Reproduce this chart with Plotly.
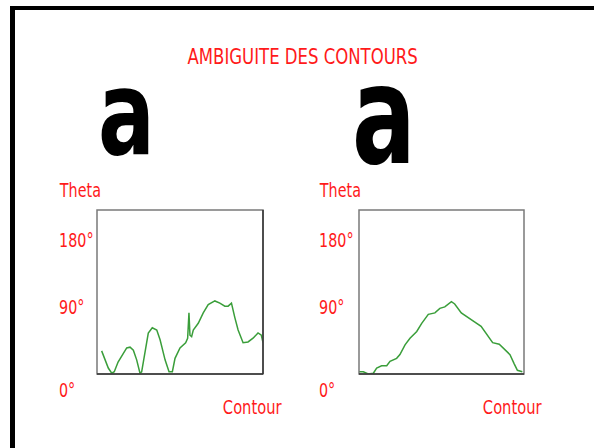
import json
import plotly.graph_objects as go

W, H = 594, 448

# Contour position (0-100 along the outline) and tangent angle theta (degrees)
contour_a = [2.8, 6.8, 8.9, 10.4, 12.7, 17.9, 19.9, 21.9, 23.9, 25.9, 26.9, 28.9,
             30.9, 33.3, 36.0, 38.0, 41.0, 43.4, 45.4, 47.0, 50.0, 53.4, 54.6,
             55.4, 56.0, 57.0, 58.0, 61.0, 64.0, 67.0, 71.0, 74.0, 77.0, 79.0,
             81.0, 83.0, 85.0, 88.0, 91.0, 94.0, 97.0, 99.0, 100.0]
theta_a = [31, 8, 1, 3, 16, 35, 36, 32, 19, 1, 3, 32,
           55, 62, 59, 46, 19, 3, 3, 21, 35, 42, 48,
           82, 52, 50, 59, 68, 82, 93, 98, 95, 91, 91,
           95, 76, 59, 42, 43, 48, 55, 52, 42]

contour_b = [0.0, 2.6, 5.6, 8.7, 10.7, 13.7, 16.8, 18.8, 22.8, 24.8, 27.9, 30.9,
             35.0, 38.0, 42.0, 46.0, 49.0, 52.0, 56.0, 58.0, 62.0, 67.0, 70.0,
             74.0, 78.0, 81.0, 85.0, 89.0, 91.5, 94.0, 96.0, 99.0]
theta_b = [3, 3, 0, 1, 8, 11, 11, 17, 21, 26, 39, 48,
           57, 68, 80, 82, 88, 90, 97, 94, 82, 75, 70,
           64, 52, 42, 40, 32, 26, 14, 5, 3]

title_text = "AMBIGUITE DES CONTOURS"
y_labels = ["Theta", "180°", "90°", "0°"]
x_label = "Contour"

RED = "#ff1a1a"
GREEN = "#3a9e3a"
FONT = "DejaVu Sans Condensed, DejaVu Sans, sans-serif"


def px(x):
    return x / W


def py(y):
    return 1 - y / H


# panel boxes in pixels: (left, right, top, bottom)
boxes = [(97, 263, 210, 374), (359, 524, 210, 374)]

fig = go.Figure()
fig.add_trace(go.Scatter(x=contour_a, y=theta_a, mode="lines",
                         line=dict(color=GREEN, width=1.5), xaxis="x", yaxis="y"))
fig.add_trace(go.Scatter(x=contour_b, y=theta_b, mode="lines",
                         line=dict(color=GREEN, width=1.5), xaxis="x2", yaxis="y2"))

axis_common = dict(showgrid=False, zeroline=False, showticklabels=False,
                   ticks="", showline=False)
fig.update_layout(
    xaxis=dict(domain=[px(boxes[0][0]), px(boxes[0][1])], range=[0, 100], anchor="y", **axis_common),
    yaxis=dict(domain=[py(boxes[0][3]), py(boxes[0][2])], range=[0, 220], anchor="x", **axis_common),
    xaxis2=dict(domain=[px(boxes[1][0]), px(boxes[1][1])], range=[0, 100], anchor="y2", **axis_common),
    yaxis2=dict(domain=[py(boxes[1][3]), py(boxes[1][2])], range=[0, 220], anchor="x2", **axis_common),
)

shapes = []
# outer frame (left and top edges)
shapes.append(dict(type="rect", xref="paper", yref="paper", x0=px(10), x1=px(15),
                   y0=py(6), y1=py(460), fillcolor="black", line=dict(width=0)))
shapes.append(dict(type="rect", xref="paper", yref="paper", x0=px(10), x1=px(600),
                   y0=py(6), y1=py(10), fillcolor="black", line=dict(width=0)))
# panel frames: grey box with a darker baseline
for i in range(2):
    xs = "x" if i == 0 else "x2"
    ys = "y" if i == 0 else "y2"
    shapes.append(dict(type="rect", xref=xs + " domain", yref=ys + " domain",
                       x0=0, x1=1, y0=0, y1=1, line=dict(color="#7a7a7a", width=1.5),
                       layer="above"))
    shapes.append(dict(type="line", xref=xs + " domain", yref=ys + " domain",
                       x0=0, x1=1, y0=0, y1=0, line=dict(color="#333333", width=1.5),
                       layer="above"))
# darker right edge on the first panel
shapes.append(dict(type="line", xref="x domain", yref="y domain",
                   x0=1, x1=1, y0=0, y1=1, line=dict(color="#333333", width=1.5),
                   layer="above"))
fig.update_layout(shapes=shapes)

ann = []
squeeze = []  # per annotation: [horizontal scale, pivot ("left" or "center")]

ann.append(dict(text=title_text, x=px(302), y=py(57), xref="paper", yref="paper",
                xanchor="center", yanchor="middle", showarrow=False,
                font=dict(family=FONT, size=21, color=RED)))
squeeze.append([0.875, "center"])

# letters shown above each panel
ann.append(dict(text="<b>a</b>", x=px(126.5), y=py(113.5), xref="paper", yref="paper",
                xanchor="center", yanchor="middle", showarrow=False,
                font=dict(family=FONT, size=117, color="black")))
squeeze.append([0.80, "center"])
ann.append(dict(text="<b>a</b>", x=px(383.5), y=py(115.5), xref="paper", yref="paper",
                xanchor="center", yanchor="middle", showarrow=False,
                font=dict(family=FONT, size=138, color="black")))
squeeze.append([0.76, "center"])

label_y = [190, 240, 307, 390]
for left_x, contour_x in [(57, 252), (317, 512.5)]:
    for txt, yy in zip(y_labels, label_y):
        ann.append(dict(text=txt, x=px(left_x), y=py(yy), xref="paper", yref="paper",
                        xanchor="left", yanchor="middle", showarrow=False,
                        font=dict(family=FONT, size=19, color=RED)))
        squeeze.append([0.84, "left"])
    ann.append(dict(text=x_label, x=px(contour_x), y=py(407), xref="paper", yref="paper",
                    xanchor="center", yanchor="middle", showarrow=False,
                    font=dict(family=FONT, size=19, color=RED)))
    squeeze.append([0.86, "center"])

fig.update_layout(annotations=ann, width=W, height=H, autosize=False,
                  margin=dict(l=0, r=0, t=0, b=0), showlegend=False,
                  paper_bgcolor="white", plot_bgcolor="white")

# narrow the annotation texts horizontally (condensed lettering)
post = """
var gd = document.getElementById('{plot_id}');
var spec = %s;
gd.querySelectorAll('g.annotation').forEach(function (g) {
  var i = parseInt(g.getAttribute('data-index'));
  var s = spec[i];
  if (!s) return;
  var t = g.querySelector('text.annotation-text');
  if (!t) return;
  var b = t.getBBox();
  var cx = s[1] === 'left' ? b.x : b.x + b.width / 2;
  var old = t.getAttribute('transform') || '';
  t.setAttribute('transform', old + ' translate(' + cx + ',0) scale(' + s[0] + ',1) translate(' + (-cx) + ',0)');
});
""" % json.dumps(squeeze)

fig.write_html("out.html", config={"displayModeBar": False}, post_script=post)
